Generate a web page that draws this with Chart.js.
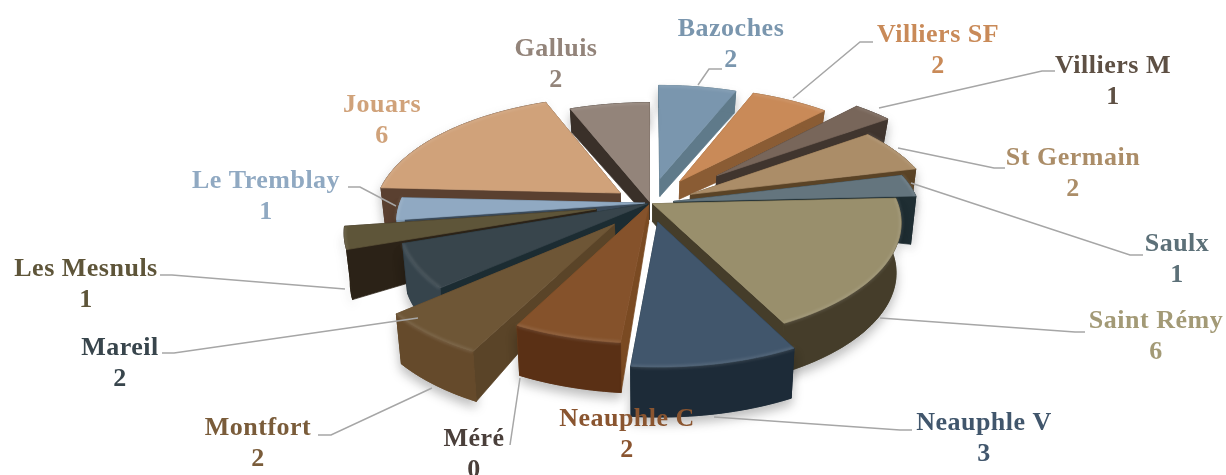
<!DOCTYPE html>
<html>
<head>
<meta charset="utf-8">
<style>
  html, body { margin: 0; padding: 0; background: #fff; }
  canvas { display: block; }
</style>
<script src="https://cdn.jsdelivr.net/npm/chart.js@4"></script>
</head>
<body>
<canvas id="chart" width="1226" height="475"></canvas>
<script>
// Exploded 3D pie: Chart.js computes the arcs, a plugin projects them

var categories = ['Bazoches', 'Villiers SF', 'Villiers M', 'St Germain', 'Saulx', 'Saint Rémy', 'Neauphle V', 'Neauphle C', 'Méré', 'Montfort', 'Mareil', 'Les Mesnuls', 'Le Tremblay', 'Jouars', 'Galluis'];
var counts = [2, 2, 1, 2, 1, 6, 3, 2, 0, 2, 2, 1, 1, 6, 2];

var topColors = ['#7a96ae', '#c98a58', '#78665a', '#ab8d68', '#64757e', '#998f6c', '#41566c', '#85522b', '#4a3f3a', '#6e5636', '#38454c', '#5e5539', '#90a9c2', '#d0a27a', '#93847a'];
var wallColors = ['#5f7a8a', '#8a5c34', '#40352e', '#5a4326', '#1f2e33', '#453d2a', '#1d2b38', '#5a3015', '#2a2420', '#654a2b', '#36444c', '#2b2217', '#7e98b0', '#5a4030', '#3a3029'];
var sideColors = ['#5f7a8a', '#8a5c34', '#40352e', '#5a4326', '#1f2e33', '#453d2a', '#1d2b38', '#7a4a22', '#2a2420', '#5a4428', '#1c2c32', '#2b2217', '#3a4a5a', '#5a4030', '#3a3029'];
var textColors = ['#7a96ae', '#c98a58', '#5e5044', '#ab8d68', '#5c7078', '#a39a76', '#41566c', '#8a5530', '#4a3f3a', '#7a5c3a', '#38454c', '#5e5539', '#90a9c2', '#d0a27a', '#93847a'];
var explode = [55, 57, 92, 45, 24, 3, 40, 5, 0, 56, 3, 55, 5, 37, 3];

// label centres, [x, first line baseline]
var labelPos = [[731, 36], [938, 42], [1113, 73], [1073, 165], [1177, 251], [1156, 328], [984, 430], [627, 426], [474, 446], [258, 435], [120, 355], [86, 276], [266, 188], [382, 112], [556, 56]];
var leaders = [
  [[698, 85], [709, 69], [722, 69]],
  [[793, 98], [860, 42], [873, 42]],
  [[879, 108], [1042, 71], [1055, 71]],
  [[898, 148], [994, 168], [1005, 168]],
  [[911, 183], [1130, 255], [1143, 255]],
  [[880, 318], [1075, 332], [1085, 332]],
  [[714, 417], [900, 430], [912, 430]],
  null,
  [[520, 378], [510, 445]],
  [[432, 388], [331, 435], [318, 435]],
  [[418, 318], [174, 353], [162, 353]],
  [[345, 289], [172, 275], [160, 275]],
  [[396, 206], [360, 187], [348, 187]],
  null,
  null
];

var CX = 650, CY = 203, R = 245, TILT = 0.47, PERSP = 0.16;
var APEX_DEPTH = 18;

function project(wx, wy, h) {
  var v = wy / R;
  var p = 1 / (1 - PERSP * v);
  var sx = wx * p;
  if (h) sx = sx * 0.98;
  return { x: CX + sx, y: CY + wy * TILT * p + h };
}

function rimDepth(wy) {
  var v = wy / R;
  return v < 0 ? 50 + 28 * Math.max(v, -1) : 50;
}

function poly(ctx, pts, fill) {
  ctx.beginPath();
  pts.forEach(function (q, i) { if (i) ctx.lineTo(q.x, q.y); else ctx.moveTo(q.x, q.y); });
  ctx.closePath();
  ctx.fillStyle = fill;
  ctx.strokeStyle = fill;
  ctx.lineWidth = 0.7;
  ctx.fill();
  ctx.stroke();
}

function drawSlice(ctx, s) {
  var rim = [], rimDown = [];
  var steps = Math.max(4, Math.ceil((s.end - s.start) / 0.03));
  for (var i = 0; i <= steps; i++) {
    var a = s.start + (s.end - s.start) * i / steps;
    var wx = s.ox + R * Math.cos(a), wy = s.oy + R * Math.sin(a);
    rim.push(project(wx, wy, 0));
    rimDown.push(project(wx, wy, rimDepth(wy)));
  }
  var apex = project(s.ox, s.oy, 0);
  var apexDown = project(s.ox, s.oy, APEX_DEPTH);

  // soft shadow under the outer wall
  ctx.save();
  ctx.shadowColor = 'rgba(0,0,0,0.28)';
  ctx.shadowBlur = 12;
  ctx.shadowOffsetY = 6;
  poly(ctx, rim.concat(rimDown.slice().reverse()), s.wall);
  ctx.restore();

  // radial walls, far one first
  var w1 = [apex, rim[0], rimDown[0], apexDown];
  var w2 = [apex, rim[steps], rimDown[steps], apexDown];
  if (rim[0].y < rim[steps].y) {
    poly(ctx, w1, s.side);
    poly(ctx, w2, s.side);
  } else {
    poly(ctx, w2, s.side);
    poly(ctx, w1, s.side);
  }
  poly(ctx, rim.concat(rimDown.slice().reverse()), s.wall);

  // top face
  poly(ctx, [apex].concat(rim), s.top);

  // bevel highlight along the rim
  ctx.save();
  ctx.filter = 'blur(1.5px)';
  ctx.beginPath();
  rim.forEach(function (q, k) { if (k) ctx.lineTo(q.x, q.y); else ctx.moveTo(q.x, q.y); });
  ctx.strokeStyle = 'rgba(255,255,255,0.12)';
  ctx.lineWidth = 3;
  ctx.stroke();
  ctx.restore();
}

var pie3d = {
  id: 'pie3d',
  beforeDatasetsDraw: function (chart) {
    var ctx = chart.ctx;
    var arcs = chart.getDatasetMeta(0).data;
    var slices = [];
    arcs.forEach(function (arc, i) {
      if (arc.endAngle - arc.startAngle <= 0) return;
      var mid = (arc.startAngle + arc.endAngle) / 2;
      var off = arc.options.offset || 0;
      slices.push({
        start: arc.startAngle, end: arc.endAngle,
        ox: off * Math.cos(mid), oy: off * Math.sin(mid),
        depth: Math.sin(mid),
        top: arc.options.backgroundColor, wall: wallColors[i], side: sideColors[i]
      });
    });
    slices.sort(function (a, b) { return a.depth - b.depth; });
    slices.forEach(function (s) { drawSlice(ctx, s); });
    return false; // flat arcs are replaced by the projected ones
  },
  afterDraw: function (chart) {
    var ctx = chart.ctx;
    ctx.save();
    ctx.strokeStyle = '#a6a6a6';
    ctx.lineWidth = 1.5;
    leaders.forEach(function (line) {
      if (!line) return;
      ctx.beginPath();
      line.forEach(function (q, k) { if (k) ctx.lineTo(q[0], q[1]); else ctx.moveTo(q[0], q[1]); });
      ctx.stroke();
    });
    ctx.font = 'bold 26px "Liberation Serif"';
    ctx.letterSpacing = '0.5px';
    ctx.textAlign = 'center';
    ctx.textBaseline = 'alphabetic';
    categories.forEach(function (name, i) {
      ctx.fillStyle = textColors[i];
      ctx.fillText(name, labelPos[i][0], labelPos[i][1]);
      ctx.fillText(String(counts[i]), labelPos[i][0], labelPos[i][1] + 31);
    });
    ctx.restore();
  }
};

new Chart(document.getElementById('chart').getContext('2d'), {
  type: 'pie',
  data: {
    labels: categories,
    datasets: [{ data: counts, backgroundColor: topColors, offset: explode, borderWidth: 0 }]
  },
  options: {
    responsive: false,
    animation: false,
    plugins: { legend: { display: false }, tooltip: { enabled: false } }
  },
  plugins: [pie3d]
});
</script>
</body>
</html>
